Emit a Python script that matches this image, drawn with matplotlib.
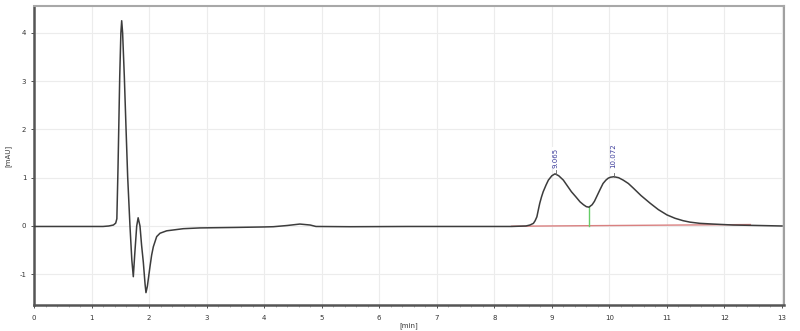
import matplotlib.pyplot as plt

plt.rcParams['axes.unicode_minus'] = False

# chromatogram trace (time in min, signal in mAU)
time_min = [0.0, 0.5, 1.0, 1.2, 1.3, 1.38, 1.42, 1.44, 1.46, 1.49, 1.51, 1.524,
            1.54, 1.57, 1.60, 1.628, 1.668, 1.70, 1.726, 1.75, 1.785, 1.81,
            1.842, 1.87, 1.90, 1.93, 1.946, 1.97, 2.016, 2.045, 2.074, 2.132,
            2.19, 2.306, 2.595, 2.885, 3.5, 4.0, 4.16, 4.4, 4.62, 4.8, 4.9,
            5.5, 6.5, 7.5, 8.3, 8.55, 8.62, 8.68, 8.71, 8.74, 8.77, 8.79, 8.82,
            8.85, 8.90, 8.94, 8.98, 9.0, 9.055, 9.12, 9.20, 9.27, 9.34, 9.42,
            9.49, 9.55, 9.60, 9.645, 9.70, 9.74, 9.78, 9.84, 9.89, 9.94, 9.98,
            10.02, 10.08, 10.16, 10.24, 10.33, 10.42, 10.55, 10.71, 10.85,
            11.0, 11.14, 11.28, 11.4, 11.57, 11.8, 12.15, 12.6, 13.0]
signal_mau = [-0.01, -0.01, -0.01, -0.01, 0.0, 0.02, 0.06, 0.15, 1.2, 3.1, 4.0, 4.25,
              4.0, 3.09, 2.0, 1.02, 0.0, -0.7, -1.05, -0.6, 0.0, 0.17,
              0.0, -0.4, -0.75, -1.2, -1.38, -1.25, -0.84, -0.6, -0.43, -0.22,
              -0.15, -0.10, -0.056, -0.04, -0.03, -0.02, -0.015, 0.01, 0.04, 0.02, -0.01,
              -0.015, -0.01, -0.01, -0.01, 0.0, 0.02, 0.055, 0.11, 0.19, 0.36, 0.47, 0.60,
              0.71, 0.85, 0.95, 1.01, 1.04, 1.08, 1.04, 0.95, 0.83, 0.71, 0.60,
              0.50, 0.44, 0.40, 0.39, 0.44, 0.51, 0.61, 0.76, 0.88, 0.95, 0.99,
              1.01, 1.02, 1.0, 0.95, 0.88, 0.78, 0.63, 0.47, 0.34,
              0.23, 0.16, 0.11, 0.08, 0.055, 0.04, 0.02, 0.01, 0.0]

peak_rt = [9.065, 10.072]
peak_top = [1.08, 1.02]
peak_labels = ['9.065', '10.072']

baseline_t = [8.3, 12.45]
baseline_v = [-0.005, 0.03]
split_t = 9.645
split_v = [0.01, 0.39]


fig = plt.figure(figsize=(8, 3.31), dpi=100)
ax = fig.add_axes([34 / 800, 1 - 305 / 331, (784 - 34) / 800, (305 - 6) / 331])

ax.plot(baseline_t, baseline_v, color='#d98080', lw=1.0, zorder=2)  # integration baseline
ax.plot([split_t, split_t], split_v, color='#66cc66', lw=1.0, zorder=2)  # peak split drop line
ax.plot(time_min, signal_mau, color='#3c3c3c', lw=1.1, zorder=3)

for rt, top, lab in zip(peak_rt, peak_top, peak_labels):
    ax.plot([rt, rt], [top, top + 0.07], color='#666666', lw=0.6, zorder=3)
    ax.text(rt, 1.2, lab, rotation=90, ha='center', va='bottom', fontsize=5,
            color='#3a3a9a', zorder=4,
            bbox=dict(fc='white', ec='none', pad=0.3))

ax.set_xlim(0, 13.035)
ax.set_ylim(-1.636, 4.555)
ax.set_xticks(range(0, 14))
ax.set_yticks(range(-1, 5))
ax.set_xticks([i * 0.2 for i in range(66)], minor=True)
ax.grid(True, color='#ececec', lw=0.8, zorder=0)
ax.set_axisbelow(True)

ax.tick_params(axis='both', which='major', labelsize=5, colors='#333333', length=2, width=0.6)
ax.tick_params(axis='x', which='minor', length=1.2, width=0.4, colors='#777777')
ax.tick_params(axis='x', pad=5)

ax.spines['left'].set_color('#555555')
ax.spines['left'].set_linewidth(1.8)
ax.spines['bottom'].set_color('#555555')
ax.spines['bottom'].set_linewidth(1.8)
ax.spines['top'].set_color('#a8a8a8')
ax.spines['top'].set_linewidth(1.5)
ax.spines['right'].set_color('#a0a0a0')
ax.spines['right'].set_linewidth(1.5)

ax.set_xlabel('[min]', fontsize=5, color='#333333', labelpad=1)
ax.set_ylabel('[mAU]', fontsize=5, color='#333333', labelpad=6)

fig.savefig('out.png', dpi=100)
